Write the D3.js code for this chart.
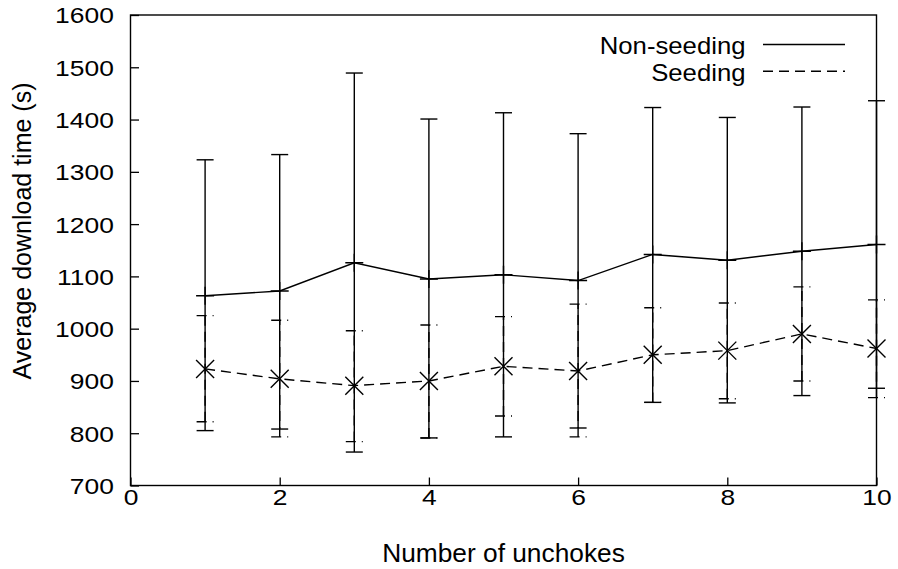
<!DOCTYPE html>
<html>
<head>
<meta charset="utf-8">
<script src="https://cdn.jsdelivr.net/npm/d3@7"></script>
<style>
  html, body { margin: 0; padding: 0; background: #fff; }
  svg { display: block; }
  text { font-family: "Liberation Sans", Arial, Helvetica, sans-serif; fill: #000; }
</style>
</head>
<body>
<svg id="chart" width="898" height="569"></svg>
<script>
// ---- data ----
const unchokes = [1, 2, 3, 4, 5, 6, 7, 8, 9, 10];
const nonSeedingMean = [1063, 1072, 1126, 1095, 1103, 1092, 1142, 1131, 1148, 1161];
const nonSeedingLow  = [805, 808, 764, 791, 793, 810, 859, 858, 872, 886];
const nonSeedingHigh = [1323, 1333, 1489, 1401, 1413, 1373, 1423, 1404, 1424, 1436];
const seedingMean = [923, 904, 891, 900, 928, 919, 950, 958, 990, 962];
const seedingLow  = [822, 793, 784, 791, 833, 793, 859, 866, 900, 868];
const seedingHigh = [1025, 1016, 996, 1007, 1023, 1047, 1040, 1049, 1080, 1055];
const xTicks = [0, 2, 4, 6, 8, 10];
const yTicks = [700, 800, 900, 1000, 1100, 1200, 1300, 1400, 1500, 1600];
const seriesNames = ["Non-seeding", "Seeding"];
const xTitle = "Number of unchokes";
const yTitle = "Average download time (s)";

// ---- layout ----
const svg = d3.select("#chart");
svg.append("rect").attr("width", 898).attr("height", 569).attr("fill", "#fff");

const x = d3.scaleLinear().domain([0, 10]).range([130.5, 876.5]);
const y = d3.scaleLinear().domain([700, 1600]).range([485.5, 15]);

const LW = 1.4;
const DASH = "10,6";
const CAP = 8.5;
const PT = 9;
const stretch = 1.2;

// axes
const gx = svg.append("g").attr("transform", `translate(0,${y(700)})`)
  .call(d3.axisBottom(x).tickValues(xTicks).tickSizeInner(-8).tickSizeOuter(0).tickFormat(d3.format("d")));
const gy = svg.append("g").attr("transform", `translate(${x(0)},0)`)
  .call(d3.axisLeft(y).tickValues(yTicks).tickSizeInner(-8.5).tickSizeOuter(0).tickFormat(d3.format("d")));

[gx, gy].forEach(g => {
  g.select(".domain").remove();
  g.selectAll(".tick line").attr("stroke", "#000").attr("stroke-width", 1.3);
  g.selectAll(".tick text").attr("fill", "#000")
    .style("font-family", "'Liberation Sans', Arial, sans-serif")
    .style("font-size", "22px");
});
gy.selectAll(".tick text")
  .attr("text-anchor", "end")
  .attr("x", -16.7 / stretch)
  .attr("dy", "0.36em")
  .attr("transform", `scale(${stretch},1)`);
gx.selectAll(".tick text")
  .attr("text-anchor", "middle")
  .attr("y", 20)
  .attr("dy", 0)
  .attr("transform", `scale(${stretch},1)`);

// border
svg.append("rect")
  .attr("x", x(0)).attr("y", y(1600))
  .attr("width", x(10) - x(0)).attr("height", y(700) - y(1600))
  .attr("fill", "none").attr("stroke", "#000").attr("stroke-width", LW);

// axis titles
svg.append("text")
  .attr("x", (x(0) + x(10)) / 2).attr("y", 561.7)
  .attr("text-anchor", "middle").style("font-size", "26.3px")
  .text(xTitle);
svg.append("text")
  .attr("transform", `translate(31,231) rotate(-90)`)
  .attr("text-anchor", "middle").style("font-size", "25px")
  .text(yTitle);

// series
function drawSeries(mean, low, high, dashed, marker) {
  const g = svg.append("g").attr("fill", "none").attr("stroke", "#000").attr("stroke-width", LW);
  const dash = dashed ? DASH : null;
  unchokes.forEach((u, i) => {
    const cx = x(u);
    g.append("line").attr("x1", cx).attr("x2", cx).attr("y1", y(low[i])).attr("y2", y(high[i]))
      .attr("stroke-dasharray", dash);
    [low[i], high[i]].forEach(v => {
      g.append("line").attr("x1", cx - CAP).attr("x2", cx + CAP).attr("y1", y(v)).attr("y2", y(v))
        .attr("stroke-dasharray", dash);
    });
  });
  const line = d3.line().x((d, i) => x(unchokes[i])).y(d => y(d));
  g.append("path").attr("d", line(mean)).attr("stroke-dasharray", dash);
  unchokes.forEach((u, i) => {
    const cx = x(u), cy = y(mean[i]);
    if (marker === "plus") {
      g.append("path").attr("d", `M${cx - PT},${cy}H${cx + PT}M${cx},${cy - PT}V${cy + PT}`);
    } else {
      g.append("path").attr("d", `M${cx - PT},${cy - PT}L${cx + PT},${cy + PT}M${cx - PT},${cy + PT}L${cx + PT},${cy - PT}`);
    }
  });
}
drawSeries(nonSeedingMean, nonSeedingLow, nonSeedingHigh, false, "plus");
drawSeries(seedingMean, seedingLow, seedingHigh, true, "cross");

// legend
const legend = svg.append("g");
seriesNames.forEach((name, i) => {
  const base = 54.5 + i * 26.7;
  legend.append("text").attr("x", 745.5).attr("y", base)
    .attr("text-anchor", "end").style("font-size", "23.8px")
    .attr("transform", `translate(745.5,0) scale(1.08,1) translate(-745.5,0)`)
    .text(name);
  legend.append("line").attr("x1", 763).attr("x2", 845)
    .attr("y1", base - 10).attr("y2", base - 10)
    .attr("stroke", "#000").attr("stroke-width", LW)
    .attr("stroke-dasharray", i === 1 ? DASH : null);
});
</script>
</body>
</html>
